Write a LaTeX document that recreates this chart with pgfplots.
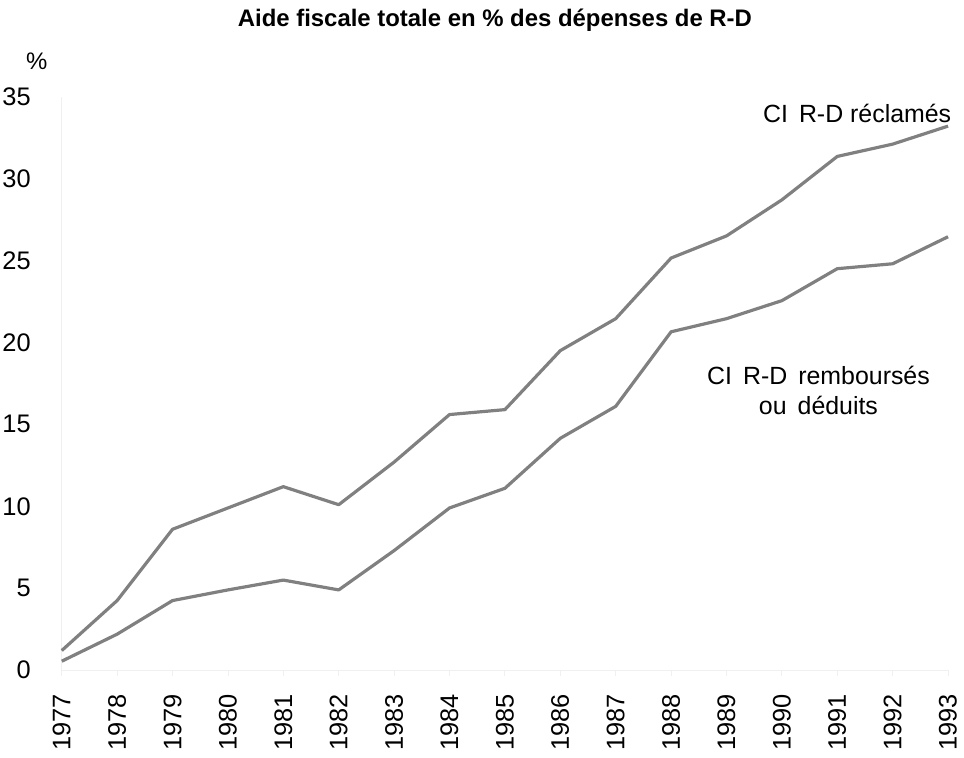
\documentclass[border=0pt]{standalone}
\usepackage{fontspec}
\setmainfont{Liberation Sans}
\usepackage{pgfplots}
\pgfplotsset{compat=1.18}
\definecolor{linegray}{RGB}{128,128,128}
\definecolor{faint}{RGB}{240,240,240}
\begin{document}
\begin{tikzpicture}
\begin{axis}[
  scale only axis,
  width=890pt, height=576pt,
  xmin=1977, xmax=1993, ymin=0, ymax=35,
  axis x line*=bottom,
  axis y line*=left,
  axis line style={faint, line width=0.8pt, -},
  xtick={1977,...,1993},
  ytick={0,5,...,35},
  major tick length=6pt,
  xtick style={faint, line width=0.8pt},
  ytick style={draw=none},
  xtick pos=bottom,
  tick align=outside,
  /pgf/number format/assume math mode=true,
  /pgf/number format/1000 sep={},
  xticklabel style={font=\fontsize{25.5}{25.5}\selectfont, rotate=90, anchor=east, inner sep=0pt},
  xticklabel shift=18pt,
  yticklabel style={font=\fontsize{25.5}{25.5}\selectfont, anchor=east, inner sep=0pt},
  yticklabel shift=25pt,
  clip=false,
]
\addplot[linegray, line width=3.2pt, line join=round] coordinates {
(1977,1.2) (1978,4.25) (1979,8.6) (1980,9.9) (1981,11.2) (1982,10.1)
(1983,12.7) (1984,15.6) (1985,15.9) (1986,19.5) (1987,21.45) (1988,25.15)
(1989,26.5) (1990,28.7) (1991,31.35) (1992,32.1) (1993,33.2)};
\addplot[linegray, line width=3.2pt, line join=round] coordinates {
(1977,0.55) (1978,2.2) (1979,4.25) (1980,4.9) (1981,5.5) (1982,4.9)
(1983,7.3) (1984,9.9) (1985,11.1) (1986,14.15) (1987,16.1) (1988,20.65)
(1989,21.45) (1990,22.55) (1991,24.5) (1992,24.8) (1993,26.45)};
\node[anchor=east, font=\fontsize{25}{25}\selectfont, inner sep=0pt] at (axis cs:1993.06,34.0) {CI\, R-D réclamés};
\node[align=center, font=\fontsize{25}{30}\selectfont, inner sep=0pt] at (axis cs:1990.66,17.07) {CI\, R-D\, remboursés\\ou\, déduits};
\end{axis}
\node[font=\fontsize{24}{24}\selectfont, inner sep=0pt] at (-25pt,611pt) {\%};
\node[font=\bfseries\fontsize{24}{24}\selectfont, inner sep=0pt] at (435pt,653pt) {Aide fiscale totale en \% des dépenses de R-D};
\pgfresetboundingbox
\path (-62pt,-88pt) rectangle (906pt,673pt);
\end{tikzpicture}
\end{document}
